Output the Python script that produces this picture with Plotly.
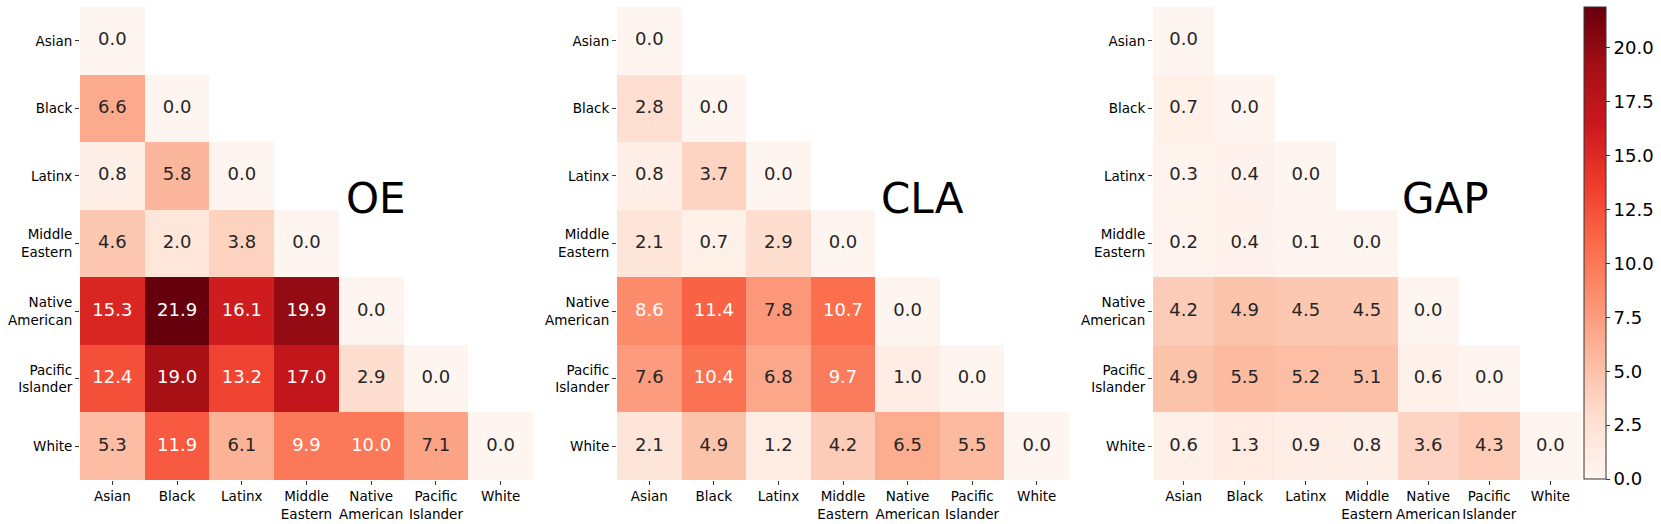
import plotly.graph_objects as go
from plotly.colors import sequential, hex_to_rgb, unlabel_rgb

W, H = 1661, 524

groups = ["Asian", "Black", "Latinx", "Middle Eastern", "Native American", "Pacific Islander", "White"]
tick_labels = ["Asian", "Black", "Latinx", "Middle<br>Eastern", "Native<br>American", "Pacific<br>Islander", "White"]
panel_titles = ["OE", "CLA", "GAP"]

oe_values = [
    [0.0],
    [6.6, 0.0],
    [0.8, 5.8, 0.0],
    [4.6, 2.0, 3.8, 0.0],
    [15.3, 21.9, 16.1, 19.9, 0.0],
    [12.4, 19.0, 13.2, 17.0, 2.9, 0.0],
    [5.3, 11.9, 6.1, 9.9, 10.0, 7.1, 0.0],
]
cla_values = [
    [0.0],
    [2.8, 0.0],
    [0.8, 3.7, 0.0],
    [2.1, 0.7, 2.9, 0.0],
    [8.6, 11.4, 7.8, 10.7, 0.0],
    [7.6, 10.4, 6.8, 9.7, 1.0, 0.0],
    [2.1, 4.9, 1.2, 4.2, 6.5, 5.5, 0.0],
]
gap_values = [
    [0.0],
    [0.7, 0.0],
    [0.3, 0.4, 0.0],
    [0.2, 0.4, 0.1, 0.0],
    [4.2, 4.9, 4.5, 4.5, 0.0],
    [4.9, 5.5, 5.2, 5.1, 0.6, 0.0],
    [0.6, 1.3, 0.9, 0.8, 3.6, 4.3, 0.0],
]
colorbar_ticks = [0.0, 2.5, 5.0, 7.5, 10.0, 12.5, 15.0, 17.5, 20.0]

panels = [oe_values, cla_values, gap_values]
n = len(groups)
vmax = max(max(max(r) for r in p) for p in panels)

reds = sequential.Reds
colorscale = [[i / (len(reds) - 1), c] for i, c in enumerate(reds)]


def parse(c):
    if c.startswith("#"):
        return hex_to_rgb(c)
    return unlabel_rgb(c)


def color_at(v):
    t = min(max(v / vmax, 0), 1) * (len(reds) - 1)
    i = min(int(t), len(reds) - 2)
    f = t - i
    a, b = parse(reds[i]), parse(reds[i + 1])
    return [a[k] + (b[k] - a[k]) * f for k in range(3)]


def luminance(rgb):
    out = []
    for c in rgb:
        c = c / 255.0
        out.append(c / 12.92 if c <= 0.03928 else ((c + 0.055) / 1.055) ** 2.4)
    return 0.2126 * out[0] + 0.7152 * out[1] + 0.0722 * out[2]


# panel geometry (pixels)
x_px = [(80, 533), (617, 1069), (1153, 1581)]
y_top, y_bot = 7, 480
title_left_px = [347, 882, 1403]
title_mid_y = 198

fig = go.Figure()
font_family = "DejaVu Sans"

for k, vals in enumerate(panels):
    z = [[(vals[r][c] if c <= r else None) for c in range(n)] for r in range(n)]
    xa = "x" if k == 0 else f"x{k+1}"
    ya = "y" if k == 0 else f"y{k+1}"
    fig.add_trace(go.Heatmap(
        z=z, x=list(range(n)), y=list(range(n)),
        coloraxis="coloraxis", xaxis=xa, yaxis=ya,
        xgap=0, ygap=0, hoverinfo="skip",
    ))
    tx, ty, tt, tc = [], [], [], []
    for r in range(n):
        for c in range(r + 1):
            v = vals[r][c]
            tx.append(c)
            ty.append(r)
            tt.append(f"{v:.1f}")
            tc.append("#262626" if luminance(color_at(v)) > 0.408 else "white")
    fig.add_trace(go.Scatter(
        x=tx, y=ty, text=tt, mode="text", xaxis=xa, yaxis=ya,
        textfont=dict(color=tc, size=18, family=font_family),
        textposition="middle center", hoverinfo="skip", showlegend=False,
    ))
    x0, x1 = x_px[k]
    axis_common = dict(
        showgrid=False, zeroline=False, showline=False, automargin=False,
        tickangle=0,
        ticks="outside", ticklen=4, tickwidth=1, tickcolor="#333",
        tickfont=dict(size=13.5, color="black", family=font_family),
        tickvals=list(range(n)), ticktext=tick_labels,
    )
    fig.layout[("xaxis" if k == 0 else f"xaxis{k+1}")] = dict(
        domain=[x0 / W, x1 / W], anchor=ya, range=[-0.5, n - 0.5], **axis_common)
    fig.layout[("yaxis" if k == 0 else f"yaxis{k+1}")] = dict(
        domain=[1 - y_bot / H, 1 - y_top / H], anchor=xa, range=[n - 0.5, -0.5], **axis_common)
    fig.add_annotation(
        text=panel_titles[k], xref="paper", yref="paper",
        x=title_left_px[k] / W - 0.002, y=1 - title_mid_y / H,
        xanchor="left", yanchor="middle", showarrow=False,
        font=dict(size=42, color="black", family=font_family),
    )

fig.update_layout(
    width=W, height=H,
    margin=dict(l=0, r=0, t=0, b=0),
    paper_bgcolor="white", plot_bgcolor="white",
    font=dict(family=font_family, color="black"),
    showlegend=False,
    coloraxis=dict(
        colorscale=colorscale, cmin=0, cmax=vmax,
        colorbar=dict(
            x=1584 / W, xanchor="left", xpad=0, ypad=0,
            y=1 - 479 / H, yanchor="bottom",
            len=472, lenmode="pixels",
            thickness=22, thicknessmode="pixels",
            outlinecolor="#333", outlinewidth=1,
            ticks="outside", ticklen=4, tickcolor="#333",
            tickvals=colorbar_ticks, ticktext=[f"{t:.1f}" for t in colorbar_ticks],
            tickfont=dict(size=18, color="black", family=font_family),
        ),
    ),
)

fig.write_html(
    "out.html",
    config={"displayModeBar": False},
    post_script="document.body.style.margin='0';document.body.style.overflow='hidden';",
)
